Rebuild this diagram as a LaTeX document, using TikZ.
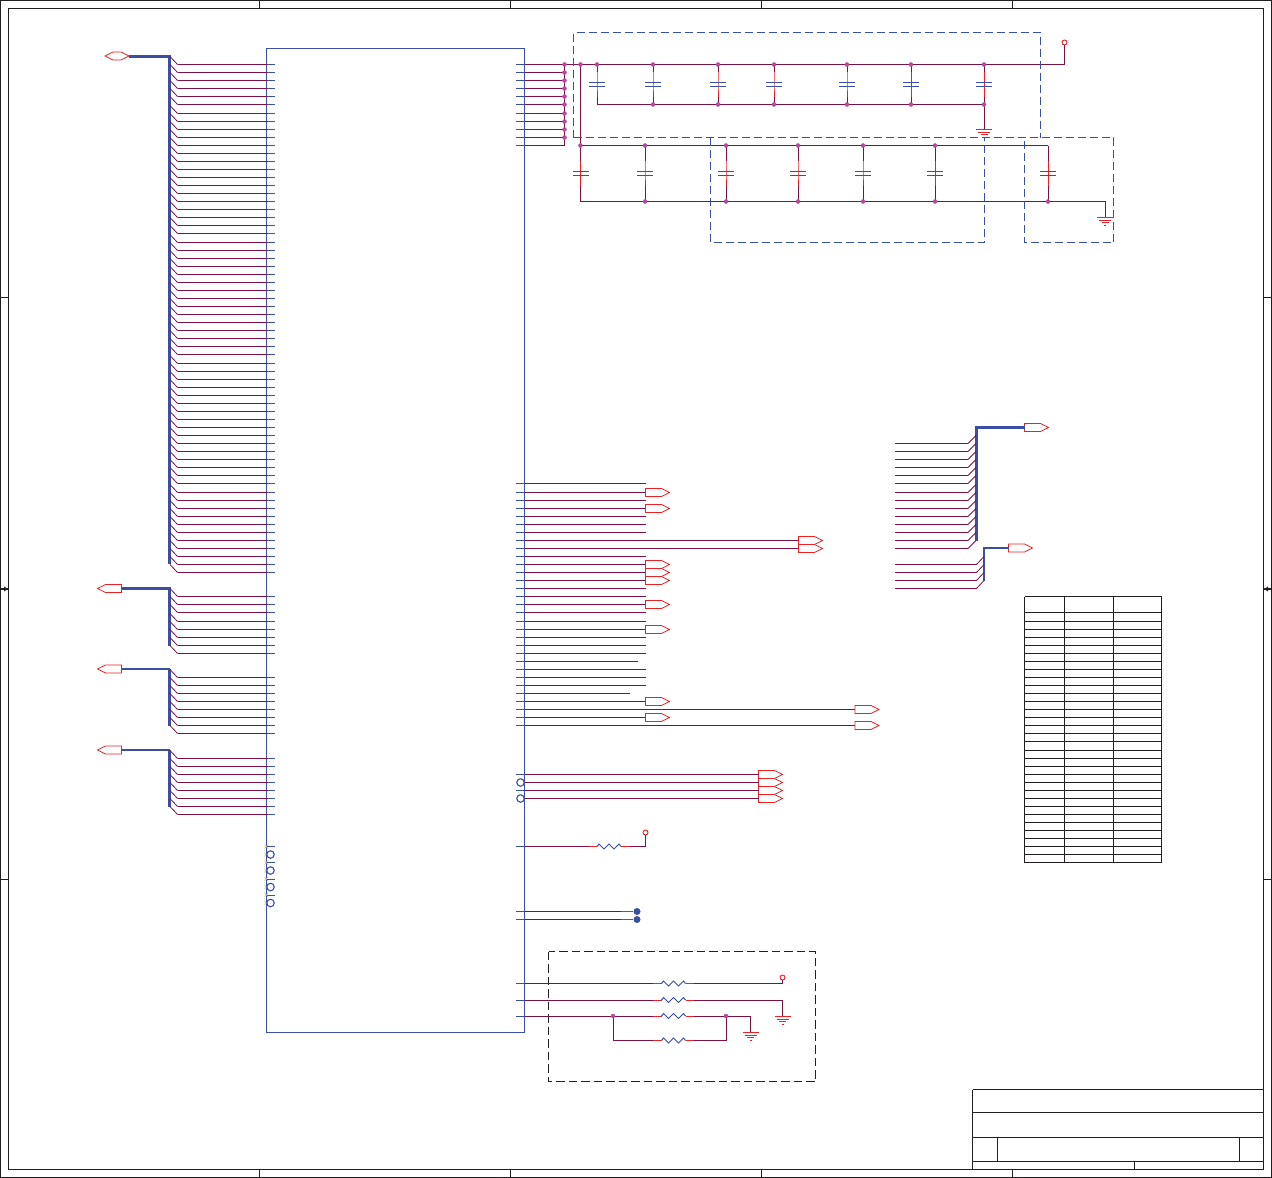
\documentclass[tikz,border=0pt]{standalone}
\usetikzlibrary{shapes.symbols}
\definecolor{wirec}{HTML}{7A1142}
\definecolor{blu}{HTML}{3A4FA3}
\definecolor{redc}{HTML}{EE2024}
\definecolor{dotc}{HTML}{B8489E}
\definecolor{blk}{HTML}{231F20}
\definecolor{ncc}{HTML}{C8B4A8}
\tikzset{
  wire/.style={draw=wirec,line width=1pt},
  diag/.style={draw=wirec,line width=.8pt},
  redw/.style={draw=redc,line width=1pt},
  stub/.style={draw=blu,line width=1pt},
  bus/.style={draw=blu,line width=3pt},
  thinbus/.style={draw=blu,line width=2.2pt},
  frameln/.style={draw=blk,line width=1.2pt},
  dbox/.style={draw=blu,line width=1pt,dash pattern=on 8pt off 4pt},
  kbox/.style={draw=blk,line width=1pt,dash pattern=on 8.5pt off 4pt},
  sigbase/.style={shape=signal,draw=redc,line width=.8pt,minimum width=24pt,minimum height=8pt,inner sep=0pt,outer sep=0pt,signal pointer angle=53.13},
  sigR/.style={sigbase,signal to=east,anchor=west},
  sigL/.style={sigbase,signal to=west,anchor=east},
  sigH/.style={sigbase,signal to=east and west},
  jn/.style={shape=circle,draw=dotc,line width=.4pt,fill=dotc,inner sep=0pt,minimum size=4pt},
  term/.style={shape=circle,draw=redc,line width=.9pt,inner sep=0pt,minimum size=5pt,fill=white},
  bub/.style={shape=circle,draw=blu,line width=1.1pt,inner sep=0pt,minimum size=7.5pt},
  tp/.style={shape=circle,fill=blu,inner sep=0pt,minimum size=7pt},
  chipbox/.style={shape=rectangle,draw=blu,line width=1pt,minimum width=258pt,minimum height=984pt,inner sep=0pt,outer sep=0pt},
  pics/gndsym/.style={code={
    \draw[redw] (-8,0)--(8,0) (-6,2.7)--(6,2.7);
    \draw[redw] (-3.5,5)--(3.5,5) (-1,7.5)--(1,7.5);}},
  pics/capsym/.style={code={
    \draw[stub] (-8,-2)--(8,-2) (-8,2)--(8,2);}},
  pics/ressym/.style={code={
    \draw[draw=blu,line width=1pt] (0,0)--(2,-2.5)--(7,2.5)--(12,-2.5)--(17,2.5)--(22,-2.5)--(24,0);}},
}
\newcommand{\entryL}[3]{% name, y, bus x
  \coordinate (#1p) at (266.5,#2);
  \coordinate (#1k) at (177.5,#2);
  \coordinate (#1b) at (#3,#2-8);
  \draw[diag] (#1b)--(#1k);
  \draw[wire] (#1k)--(#1p);
  \draw[stub] (#1p)--++(8.5,0);}
\newcommand{\entryR}[4]{% name, y, knee x, bus x
  \coordinate (#1s) at (895,#2);
  \coordinate (#1k) at (#3,#2);
  \coordinate (#1b) at (#4,#2-8);
  \draw[wire] (#1s)--(#1k);
  \draw[diag] (#1k)--(#1b);}
\newcommand{\resline}[3]{% name, left x of body, y
  \coordinate (#1a) at (#2-8.5,#3);
  \coordinate (#1b) at (#2,#3);
  \coordinate (#1c) at (#2+24,#3);
  \coordinate (#1d) at (#2+32.5,#3);
  \draw[redw] (#1a)--(#1b) (#1c)--(#1d);
  \pic at (#1b) {ressym};}
\begin{document}
\begin{tikzpicture}[x=1pt,y=-1pt]
\useasboundingbox (0,0) rectangle (1272,1178);
% frame
\draw[frameln] (0.6,0.6) rectangle (1271.4,1177.4);
\draw[frameln] (8.5,8.5) rectangle (1263.5,1169.5);
\foreach \x in {259.5,510.5,761.5,1012.5}{
  \draw[frameln] (\x,0.6)--(\x,8.5);
  \draw[frameln] (\x,1169.5)--(\x,1177.4);}
\foreach \y in {297.5,879.5}{
  \draw[frameln] (0.6,\y)--(8.5,\y);
  \draw[frameln] (1263.5,\y)--(1271.4,\y);}
\draw[frameln] (0.6,589)--(8.5,589);
\draw[frameln] (1263.5,589)--(1271.4,589);
\fill[blk] (8,589)--(4,586.5)--(4,591.5)--cycle;
\fill[blk] (1264,589)--(1268,586.5)--(1268,591.5)--cycle;
% title block
\draw[frameln] (972.5,1089.5)--(1263.5,1089.5) (972.5,1112.5)--(1263.5,1112.5) (972.5,1137.5)--(1263.5,1137.5) (972.5,1161.5)--(1263.5,1161.5);
\draw[frameln] (972.5,1089.5)--(972.5,1169.5) (997.5,1137.5)--(997.5,1161.5) (1239.5,1137.5)--(1239.5,1161.5) (1134.5,1161.5)--(1134.5,1169.5);
% chip
\node[chipbox] (chip) at (395.5,540.5) {};
% left port buses
\node[sigH] (pA) at (117,56) {};
\draw[bus] (pA.east)--(169.5,56)--(169.5,564);
\foreach \y [count=\i] in {64,72,80,88,96,104,113,121,129,137,145,153,161,169,177,185,193,201,209,217,225,233,242,250,258,266,274,282,290,298,306,314,322,330,338,346,354,363,371,379,387,395,403,411,419,427,435,443,451,459,467,475,483,492,500,508,516,524,532,540,548,556,564,572}
  {\entryL{A\i}{\y.5}{170}}
\node[sigL] (pB) at (121.5,588.5) {};
\draw[bus] (pB.east)--(169.5,588.5)--(169.5,645.5);
\foreach \y [count=\i] in {596,604,612,621,629,637,645,653}
  {\entryL{B\i}{\y.5}{170}}
\node[sigL] (pC) at (121.5,669) {};
\draw[thinbus] (pC.east)--(169.5,669);
\draw[bus] (169.5,669)--(169.5,726);
\foreach \y [count=\i] in {677,685,693,701,709,717,725,733}
  {\entryL{C\i}{\y.5}{170}}
\node[sigL] (pD) at (121.5,750) {};
\draw[thinbus] (pD.east)--(169.5,750);
\draw[bus] (169.5,750)--(169.5,807);
\foreach \y [count=\i] in {758,766,774,782,790,798,806,814}
  {\entryL{D\i}{\y.5}{170}}
% left no-connect pins
\foreach \y/\bb [count=\i] in {846.5/0,854.5/1,862.5/0,870.5/1,879/0,887/1,895/0,903/1}{
  \coordinate (nc\i) at (266.5,\y);
  \draw[draw=ncc,line width=.5pt] (264.5,\y-2)--(268,\y+2) (264.5,\y+2)--(268,\y-2);
  \ifnum\bb=1 \node[bub] (lb\i) at (270.5,\y) {};
  \else \draw[stub] (nc\i)--++(8.5,0); \fi}
% power pins top right
\foreach \y [count=\i] in {64,72,80,88,96,104,113,121,129,137,145}{
  \coordinate (tS\i) at (524.5,\y.5);
  \coordinate (tE\i) at (564.5,\y.5);
  \draw[wire] (tS\i)--(tE\i);
  \draw[stub] (tS\i)--++(-8.5,0);}
\draw[wire] (tE1)--(tE11);
% top rails
\node[term] (vcc) at (1064.5,42.5) {};
\coordinate (rT) at (1064.5,64.5);
\coordinate (rTb) at (597,104.5);
\coordinate (rTe) at (984,104.5);
\draw[wire] (tE1)--(rT)--(vcc);
\draw[wire] (rTb)--(rTe);
\foreach \x [count=\i] in {597,653,718,774,847,911,984}{
  \coordinate (ct\i) at (\x,64.5);
  \coordinate (cb\i) at (\x,104.5);
  \coordinate (cu\i) at (\x,72);
  \coordinate (cv\i) at (\x,97);
  \coordinate (cm\i) at (\x,84.5);
  \draw[wire] (ct\i)--(cu\i) (cv\i)--(cb\i);
  \draw[redw] (cu\i)--(cm\i)--(cv\i);
  \pic at (cm\i) {capsym};}
\coordinate (g1) at (984,129.5);
\draw[wire] (cb7)--(g1);
\pic at (g1) {gndsym};
% lower rails
\coordinate (rL) at (580.5,64.5);
\coordinate (rM) at (580.5,145.5);
\coordinate (rE) at (1048,145.5);
\coordinate (rB) at (580.5,201.5);
\coordinate (rF) at (1105,201.5);
\coordinate (g2) at (1105,217.5);
\draw[wire] (rL)--(rM)--(rE);
\draw[wire] (rB)--(rF)--(g2);
\pic at (g2) {gndsym};
\foreach \x [count=\i] in {580.5,645,726,798,863,935,1048}{
  \coordinate (dt\i) at (\x,145.5);
  \coordinate (db\i) at (\x,201.5);
  \coordinate (du\i) at (\x,161);
  \coordinate (dv\i) at (\x,186);
  \coordinate (dm\i) at (\x,173.5);
  \draw[wire] (dt\i)--(du\i) (dv\i)--(db\i);
  \draw[redw] (du\i)--(dm\i)--(dv\i);
  \pic at (dm\i) {capsym};}
% dashed boxes
\draw[dbox] (573.5,137.5)--(573.5,32.5)--(1040.5,32.5)--(1040.5,137.5);
\draw[dbox] (573.5,137.5)--(1113.5,137.5)--(1113.5,242.5)--(1024.5,242.5)--(1024.5,137.5);
\draw[dbox] (710.5,137.5)--(710.5,242.5)--(984,242.5)--(984,137.5);
% junction dots on top of every wire
\foreach \i in {1,...,10}{\node[jn] (jt\i) at (tE\i) {};}
\foreach \i in {1,...,7}{\node[jn] (ja\i) at (ct\i) {};}
\foreach \i in {2,...,7}{\node[jn] (jb\i) at (cb\i) {};}
\foreach \i in {1,...,6}{\node[jn] (jc\i) at (dt\i) {};}
\foreach \i in {2,...,7}{\node[jn] (jd\i) at (db\i) {};}
\node[jn] (jL) at (rL) {};
% middle right pins
\foreach \y/\xe [count=\i] in {483/645.5,492/645.5,500/645.5,508/645.5,516/645.5,524/645.5,532/645.5,540/798.5,548/798.5,556/645.5,564/645.5,572/645.5,580/645.5,588/645.5,596/645.5,604/645.5,612/645.5,621/645.5,629/645.5,637/645.5,645/645.5,653/645.5,661/637.5,669/645.5,677/645.5,685/645.5,693/629.5,701/645.5,709/855,717/645.5,725/855}{
  \coordinate (mS\i) at (524.5,\y.5);
  \coordinate (mE\i) at (\xe,\y.5);
  \draw[wire] (mS\i)--(mE\i);
  \draw[stub] (mS\i)--++(-8.5,0);}
\foreach \i in {2,4,8,9,11,12,13,16,19,28,29,30,31}{\node[sigR] (mP\i) at (mE\i) {};}
% four outputs with bubbles
\foreach \y/\bb [count=\i] in {774.5/0,782.5/1,790.5/0,798.5/1}{
  \coordinate (qS\i) at (524.5,\y);
  \node[sigR] (qP\i) at (758.5,\y) {};
  \draw[wire] (qS\i)--(qP\i.west);
  \ifnum\bb=1 \node[bub] (qB\i) at (520.5,\y) {};
  \else \draw[stub] (qS\i)--++(-8.5,0); \fi}
% pull-up
\coordinate (uS) at (524.5,846.5);
\coordinate (uK) at (645.5,846.5);
\node[term] (uT) at (645.5,832.5) {};
\draw[stub] (uS)--++(-8.5,0);
\resline{uR}{597}{846.5}
\draw[wire] (uS)--(uRa) (uRd)--(uK)--(uT);
% test points
\foreach \y [count=\i] in {911.5,919.5}{
  \coordinate (pS\i) at (524.5,\y);
  \coordinate (pM\i) at (621,\y);
  \node[tp] (pT\i) at (637,\y) {};
  \draw[stub] (pS\i)--++(-8.5,0);
  \draw[wire] (pS\i)--(pM\i);
  \draw[redw] (pM\i)--(pT\i);}
% strap box
\draw[kbox] (548.5,951.5) rectangle (815.5,1081.5);
\coordinate (s1) at (524.5,983.5);
\coordinate (s2) at (524.5,1000);
\coordinate (s3) at (524.5,1016);
\foreach \i in {1,2,3}{\draw[stub] (s\i)--++(-8.5,0);}
\resline{sA}{661.5}{983.5}
\resline{sB}{661.5}{1000}
\resline{sC}{661.5}{1016}
\resline{sD}{661.5}{1040.5}
\node[term] (sT) at (782.5,977.5) {};
\coordinate (sK1) at (782.5,983.5);
\draw[wire] (s1)--(sAa) (sAd)--(sK1)--(sT);
\coordinate (sK2) at (782.5,1000);
\coordinate (g3) at (782.5,1016.5);
\draw[wire] (s2)--(sBa) (sBd)--(sK2)--(g3);
\pic at (g3) {gndsym};
\coordinate (sL) at (613,1016);
\coordinate (sR) at (726,1016);
\coordinate (sK3) at (750.5,1016);
\coordinate (g4) at (750.5,1032.5);
\coordinate (sLd) at (613,1040.5);
\coordinate (sRd) at (726,1040.5);
\draw[wire] (s3)--(sCa) (sCd)--(sK3)--(g4);
\draw[wire] (sL)--(sLd)--(sDa) (sDd)--(sRd)--(sR);
\pic at (g4) {gndsym};
\node[jn] (jsL) at (sL) {};
\node[jn] (jsR) at (sR) {};
% right buses
\node[sigR] (pE) at (1024.5,427.5) {};
\draw[bus] (pE.west)--(976,427.5)--(976,540.5);
\foreach \y [count=\i] in {443,451,459,467,475,483,492,500,508,516,524,532,540,548}
  {\entryR{E\i}{\y.5}{968}{976}}
\node[sigR] (pF) at (1008.5,548) {};
\draw[thinbus] (pF.west)--(984,548)--(984,580.5);
\foreach \y [count=\i] in {564,572,580,588}
  {\entryR{F\i}{\y.5}{976.5}{984}}
% table
\foreach \y in {596.5,612.5,621.5,629.5,637.5,645.5,653.5,661.5,669.5,677.5,685.5,693.5,701.5,709.5,717.5,725.5,733.5,741.5,750.5,758.5,766.5,774.5,782.5,790.5,798.5,806.5,814.5,822.5,830.5,838.5,846.5,854.5,862.5}
  {\draw[draw=blk,line width=1pt] (1024.5,\y)--(1161.5,\y);}
\foreach \x in {1024.5,1064.5,1113.5,1161.5}
  {\draw[draw=blk,line width=1pt] (\x,596.5)--(\x,862.5);}
\end{tikzpicture}
\end{document}
